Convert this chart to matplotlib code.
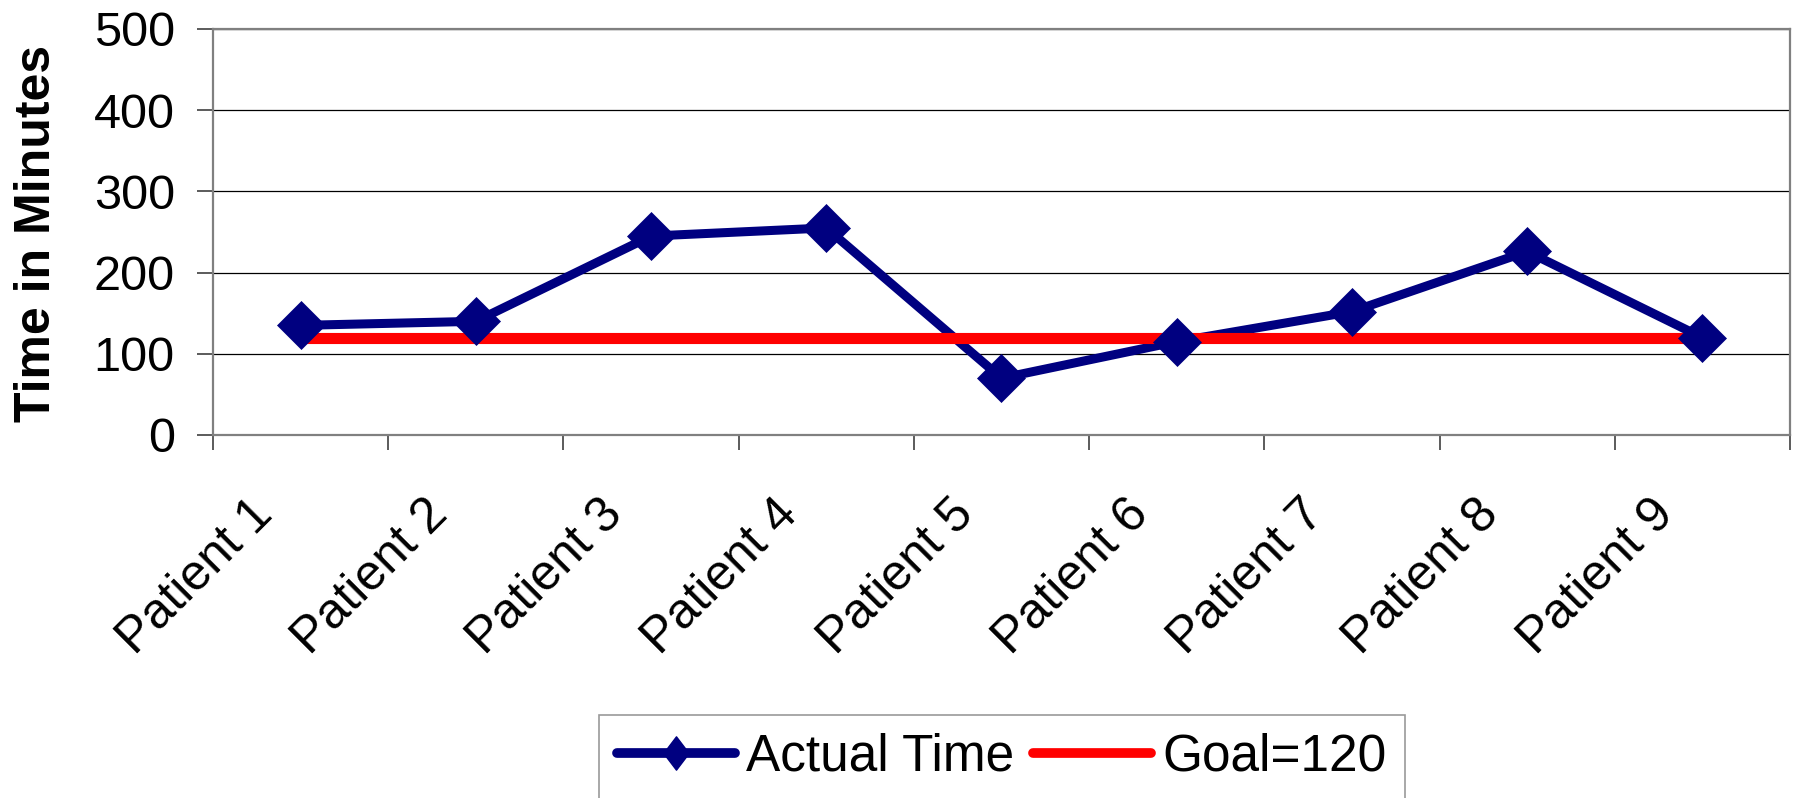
import matplotlib
matplotlib.use("Agg")
import matplotlib.pyplot as plt
from matplotlib.lines import Line2D
from matplotlib.path import Path
from matplotlib.transforms import ScaledTranslation
import numpy as np

# Data
patients = ["Patient 1", "Patient 2", "Patient 3", "Patient 4", "Patient 5",
            "Patient 6", "Patient 7", "Patient 8", "Patient 9"]
actual_time = [135, 140, 245, 255, 70, 115, 152, 226, 120]
goal_value = 120
y_ticks = [0, 100, 200, 300, 400, 500]

plt.rcParams['font.family'] = ['Liberation Sans', 'DejaVu Sans']

W, H = 1799, 798
fig = plt.figure(figsize=(W / 100, H / 100), dpi=100)
fig.patch.set_facecolor('white')

left, right, top, bottom = 213, 1790, 29, 435
ax = fig.add_axes([left / W, 1 - bottom / H, (right - left) / W, (bottom - top) / H])

navy = '#000080'
red = '#FF0000'
x = np.arange(len(patients))

# Goal line and actual times
ax.plot(x, actual_time, color=navy, lw=6.5, zorder=3, solid_joinstyle='round')
ax.plot(x, [goal_value] * len(x), color=red, lw=8, zorder=4, solid_capstyle='butt')
ax.plot(x, actual_time, linestyle='none', marker='D', ms=24, mfc=navy, mec=navy,
        mew=0.5, zorder=5)

ax.set_xlim(-0.5, len(patients) - 0.5)
ax.set_ylim(0, 500)

# Axes frame
for side in ['left', 'right', 'top', 'bottom']:
    ax.spines[side].set_color('#808080')
    ax.spines[side].set_linewidth(1.6)

# Gridlines
ax.set_yticks(y_ticks)
ax.yaxis.grid(True, color='black', linewidth=0.9)
ax.set_axisbelow(True)
ax.tick_params(axis='y', length=11.5, width=1.2, color='#404040', pad=16,
               labelsize=35)

# Category ticks at boundaries, labels at centres
ax.set_xticks(x)
ax.set_xticks(np.arange(-0.5, len(patients)), minor=True)
ax.tick_params(axis='x', which='major', length=0, pad=40.2, labelsize=36)
ax.tick_params(axis='x', which='minor', length=11, width=1.2, color='#404040')
ax.set_xticklabels(patients, rotation=45, ha='right', va='top',
                   rotation_mode='anchor')
offset = ScaledTranslation(-51.7 / 100, 0, fig.dpi_scale_trans)
for lbl in ax.get_xticklabels():
    lbl.set_transform(lbl.get_transform() + offset)

# Y axis title
fig.text(50 / W, 1 - 233 / H, 'Time in Minutes', rotation=90, fontsize=36,
         fontweight='bold', ha='center', va='baseline', rotation_mode='anchor')

# Legend (slightly tall diamond for the series key)
tall_diamond = Path([(0, 1), (0.76, 0), (0, -1), (-0.76, 0), (0, 1)],
                    [Path.MOVETO, Path.LINETO, Path.LINETO, Path.LINETO,
                     Path.CLOSEPOLY])
handles = [
    Line2D([], [], color=navy, lw=7, marker=tall_diamond, ms=24, mfc=navy,
           mec=navy, solid_capstyle='round'),
    Line2D([], [], color=red, lw=7, solid_capstyle='round'),
]
leg = fig.legend(handles, ['Actual Time', 'Goal=120'], loc='upper left',
                 bbox_to_anchor=(599 / W, 1 - 715 / H), ncol=2, fontsize=37,
                 frameon=True, fancybox=False, edgecolor='#808080',
                 handlelength=2.3, handletextpad=0.22, columnspacing=0.36,
                 borderpad=0.35, borderaxespad=0)
leg.get_frame().set_linewidth(1.2)

fig.savefig('out.png', dpi=100, facecolor='white')
